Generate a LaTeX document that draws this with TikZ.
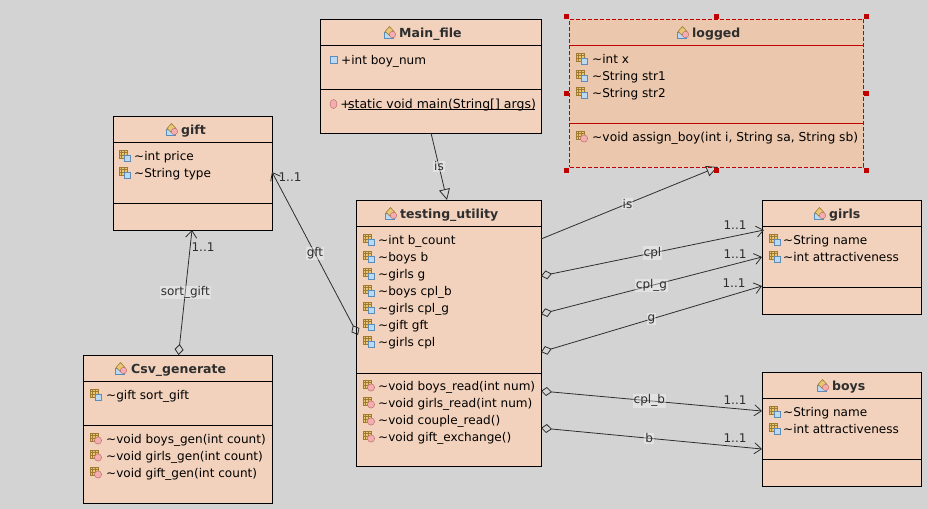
\documentclass[tikz,border=0pt]{standalone}
\usepackage{fontspec}
\setmainfont{DejaVu Sans}
\usetikzlibrary{arrows.meta,calc}
\definecolor{bgc}{HTML}{D3D3D3}
\definecolor{boxc}{HTML}{F2D2BC}
\definecolor{selc}{HTML}{EAC7AD}
\definecolor{selred}{HTML}{C00000}
\definecolor{inkc}{HTML}{2E2E2E}
\definecolor{gridfill}{HTML}{E8C878}
\definecolor{gridline}{HTML}{A07A30}
\definecolor{icblue}{HTML}{BBD9F2}
\definecolor{icblued}{HTML}{5B8DB8}
\definecolor{icpink}{HTML}{F4AEB0}
\definecolor{icpinkd}{HTML}{C07070}
\newcounter{autonode}
\tikzset{
  classbox/.style={draw=black,fill=boxc,line width=1pt,anchor=north west,inner sep=0pt,outer sep=0pt},
  selbox/.style={classbox,fill=selc,draw=selred,dash pattern=on 4pt off 2pt},
  member/.style={anchor=base west,inner sep=0pt,font=\fontsize{12.05}{14}\selectfont,text=black},
  ctitle/.style={anchor=base west,inner sep=0pt,font=\fontsize{12.5}{14}\selectfont\bfseries,text=inkc},
  conn/.style={draw=inkc,line width=.8pt},
  edgelabel/.style={fill=white,fill opacity=.35,text opacity=1,inner sep=1pt,font=\fontsize{12}{14}\selectfont,text=inkc},
  mult/.style={inner sep=0pt,font=\fontsize{12}{14}\selectfont,text=inkc},
  comp/.style={conn,{Diamond[open,length=11pt,width=9pt,line width=.8pt]}-{Straight Barb[length=7pt,width=11pt,line width=.8pt]}},
  inh/.style={conn,-{Triangle[open,length=11pt,width=11pt,line width=.8pt]}},
  handle/.style={fill=selred,draw=none,minimum size=5pt,inner sep=0pt},
  seprule/.style={line width=1pt}
}
% icons, centred on the given point
\newcommand{\gridmark}{%
  \fill[fill=gridfill,draw=gridline,line width=.7pt] (-5,-6) rectangle (3,2);
  \draw[gridline,line width=.6pt] (-2.3,-6) -- (-2.3,2) (0.3,-6) -- (0.3,2) (-5,-3.3) -- (3,-3.3) (-5,-0.7) -- (3,-0.7);}
\newcommand{\fieldicon}[2]{\begin{scope}[shift={(#1,#2)}]
  \gridmark
  \fill[fill=icblue,draw=icblued,line width=.7pt] (0,-1) rectangle (6.5,5);
\end{scope}}
\newcommand{\methodicon}[2]{\begin{scope}[shift={(#1,#2)}]
  \gridmark
  \fill[fill=icpink,draw=icpinkd,line width=.5pt] (3,1.5) circle (3.6);
\end{scope}}
\newcommand{\classicon}[2]{\begin{scope}[shift={(#1,#2)}]
  \fill[fill=icblue,draw=icblued,line width=.6pt] (-6,0) rectangle (3,6);
  \fill[fill=gridfill,draw=gridline,line width=.6pt] (-5,-0.5) -- (-0.5,-5.5) -- (4,-0.5) -- (-0.5,3.5) -- cycle;
  \fill[fill=icpink,draw=icpinkd,line width=.5pt] (2.5,2.5) circle (3.2);
\end{scope}}
\newcommand{\mrow}[3]{\stepcounter{autonode}\node[member] (m\theautonode) at (#1,#2+4.7) {#3};}
\begin{document}
\begin{tikzpicture}[x=1pt,y=-1pt]
\useasboundingbox[fill=bgc] (0,0) rectangle (927,509);

% ---- boxes
\node[classbox,minimum width=221pt,minimum height=114pt] (mainf) at (320,19) {};
\node[selbox,minimum width=294pt,minimum height=148pt] (logged) at (569.5,19) {};
\node[classbox,minimum width=159pt,minimum height=114pt] (gift) at (113,116) {};
\node[classbox,minimum width=185pt,minimum height=266pt] (testing) at (356,200) {};
\node[classbox,minimum width=159pt,minimum height=114pt] (girls) at (762,200) {};
\node[classbox,minimum width=159pt,minimum height=114pt] (boys) at (762,372) {};
\node[classbox,minimum width=189pt,minimum height=148pt] (csv) at (83,355) {};

% ---- separators
\draw[seprule] ($(mainf.north west)+(0,26)$) -- ($(mainf.north east)+(0,26)$);
\draw[seprule] ($(mainf.north west)+(0,70)$) -- ($(mainf.north east)+(0,70)$);
\draw[seprule,selred] ($(logged.north west)+(0,26.5)$) -- ($(logged.north east)+(0,26.5)$);
\draw[seprule,selred] ($(logged.north west)+(0,104)$) -- ($(logged.north east)+(0,104)$);
\draw[seprule] ($(gift.north west)+(0,26)$) -- ($(gift.north east)+(0,26)$);
\draw[seprule] ($(gift.north west)+(0,87)$) -- ($(gift.north east)+(0,87)$);
\draw[seprule] ($(testing.north west)+(0,26)$) -- ($(testing.north east)+(0,26)$);
\draw[seprule] ($(testing.north west)+(0,173)$) -- ($(testing.north east)+(0,173)$);
\draw[seprule] ($(girls.north west)+(0,26)$) -- ($(girls.north east)+(0,26)$);
\draw[seprule] ($(girls.north west)+(0,87)$) -- ($(girls.north east)+(0,87)$);
\draw[seprule] ($(boys.north west)+(0,26)$) -- ($(boys.north east)+(0,26)$);
\draw[seprule] ($(boys.north west)+(0,87)$) -- ($(boys.north east)+(0,87)$);
\draw[seprule] ($(csv.north west)+(0,26)$) -- ($(csv.north east)+(0,26)$);
\draw[seprule] ($(csv.north west)+(0,70)$) -- ($(csv.north east)+(0,70)$);

% ---- titles
\classicon{390}{32}\node[ctitle] (tmain) at (399,37) {Main\_file};
\classicon{683}{32}\node[ctitle] (tlogged) at (692,37) {logged};
\classicon{172}{129}\node[ctitle] (tgift) at (181,134) {gift};
\classicon{391}{213}\node[ctitle] (ttest) at (400,218) {testing\_utility};
\classicon{820}{213}\node[ctitle] (tgirls) at (829,218) {girls};
\classicon{823}{385}\node[ctitle] (tboys) at (832,390) {boys};
\classicon{121}{368}\node[ctitle] (tcsv) at (131,373) {Csv\_generate};

% ---- Main_file members
\fill[fill=icblue,draw=icblued,line width=.7pt] (330,56) rectangle (337,63);
\mrow{341}{60}{+int boy\_num}
\fill[fill=icpink,draw=icpinkd,line width=.5pt] (333.5,104) ellipse (3.5 and 4.5);
\mrow{341}{104}{\kern-.8pt+\kern-2.4pt\fontsize{12.5}{14}\selectfont\rlap{\rule[-1pt]{187pt}{.8pt}}static void main(String[] args)}

% ---- logged members
\fieldicon{581}{59}\mrow{592}{59}{\textasciitilde int x}
\fieldicon{581}{76}\mrow{592}{76}{\textasciitilde String str1}
\fieldicon{581}{93}\mrow{592}{93}{\textasciitilde String str2}
\methodicon{581}{137}\mrow{592}{137}{\fontsize{12.28}{14}\selectfont\textasciitilde void assign\_boy(int i, String sa, String sb)}

% ---- gift members
\fieldicon{124}{156}\mrow{134}{156}{\textasciitilde int price}
\fieldicon{124}{173}\mrow{134}{173}{\textasciitilde String type}

% ---- testing_utility members
\fieldicon{368}{240}\mrow{378}{240}{\textasciitilde int b\_count}
\fieldicon{368}{257}\mrow{378}{257}{\textasciitilde boys b}
\fieldicon{368}{274}\mrow{378}{274}{\textasciitilde girls g}
\fieldicon{368}{291}\mrow{378}{291}{\textasciitilde boys cpl\_b}
\fieldicon{368}{308}\mrow{378}{308}{\textasciitilde girls cpl\_g}
\fieldicon{368}{325}\mrow{378}{325}{\textasciitilde gift gft}
\fieldicon{368}{342}\mrow{378}{342}{\textasciitilde girls cpl}
\methodicon{368}{386}\mrow{378}{386}{\textasciitilde void boys\_read(int num)}
\methodicon{368}{403}\mrow{378}{403}{\textasciitilde void girls\_read(int num)}
\methodicon{368}{420}\mrow{378}{420}{\textasciitilde void couple\_read()}
\methodicon{368}{437}\mrow{378}{437}{\textasciitilde void gift\_exchange()}

% ---- girls / boys members
\fieldicon{774}{240}\mrow{783}{240}{\textasciitilde String name}
\fieldicon{774}{257}\mrow{783}{257}{\textasciitilde int attractiveness}
\fieldicon{774}{412}\mrow{783}{412}{\textasciitilde String name}
\fieldicon{774}{429}\mrow{783}{429}{\textasciitilde int attractiveness}

% ---- Csv_generate members
\fieldicon{95}{395}\mrow{106}{395}{\textasciitilde gift sort\_gift}
\methodicon{95}{439}\mrow{106}{439}{\textasciitilde void boys\_gen(int count)}
\methodicon{95}{456}\mrow{106}{456}{\textasciitilde void girls\_gen(int count)}
\methodicon{95}{473}\mrow{106}{473}{\textasciitilde void gift\_gen(int count)}

% ---- connector ends on the box edges
\coordinate (mainOut) at ($(mainf.south west)+(111,0)$);
\coordinate (testTop) at ($(testing.north west)+(91,0)$);
\coordinate (testIs) at ($(testing.north east)+(0,39)$);
\coordinate (logIn) at ($(logged.south west)+(148,0)$);
\coordinate (tCpl) at ($(testing.north east)+(0,76)$);
\coordinate (tCplG) at ($(testing.north east)+(0,114)$);
\coordinate (tG) at ($(testing.north east)+(0,152)$);
\coordinate (tCplB) at ($(testing.north east)+(0,191)$);
\coordinate (tB) at ($(testing.north east)+(0,228)$);
\coordinate (tGft) at ($(testing.north west)+(2,135)$);
\coordinate (gCpl) at ($(girls.north west)+(2,30)$);
\coordinate (gCplG) at ($(girls.north west)+(0,57)$);
\coordinate (gG) at ($(girls.north west)+(0,86)$);
\coordinate (bCplB) at ($(boys.north west)+(0,39)$);
\coordinate (bB) at ($(boys.north west)+(0,77)$);
\coordinate (giftGft) at ($(gift.north east)+(0,56)$);
\coordinate (giftSort) at ($(gift.south west)+(79,0)$);
\coordinate (csvSort) at ($(csv.north west)+(95.5,0)$);

% ---- connectors
\draw[inh] (mainOut) -- node[edgelabel] (lis1) {is} (testTop);
\draw[inh] (testIs) -- node[edgelabel,pos=.49] (lis2) {is} (logIn);
\draw[comp] (tCpl) -- node[edgelabel,pos=.5] (lcpl) {cpl} (gCpl);
\draw[comp] (tCplG) -- node[edgelabel,pos=.5] (lcplg) {cpl\_g} (gCplG);
\draw[comp] (tG) -- node[edgelabel,pos=.5] (lg) {g} (gG);
\draw[comp] (tCplB) -- node[edgelabel,pos=.49] (lcplb) {cpl\_b} (bCplB);
\draw[comp] (tB) -- node[edgelabel,pos=.49] (lb) {b} (bB);
\draw[comp] (tGft) -- node[edgelabel] (lgft) {gft} (giftGft);
\draw[comp] (csvSort) -- node[edgelabel] (lsort) {sort\_gift} (giftSort);

% ---- multiplicities
\node[mult] (m1) at (735,225) {1..1};
\node[mult] (m2) at (735,254) {1..1};
\node[mult] (m3) at (734,283) {1..1};
\node[mult] (m4) at (735,400) {1..1};
\node[mult] (m5) at (735,438) {1..1};
\node[mult] (m6) at (290,177) {1..1};
\node[mult] (m7) at (203,247) {1..1};

% ---- selection handles
\node[handle] (h1) at (566.3,16.3) {};
\node[handle] (h2) at (716.3,16.3) {};
\node[handle] (h3) at (866.5,16.3) {};
\node[handle] (h4) at (566.3,93.3) {};
\node[handle] (h5) at (866.5,93.3) {};
\node[handle] (h6) at (566.3,170.3) {};
\node[handle] (h7) at (716.3,170.3) {};
\node[handle] (h8) at (866.5,170.3) {};
\end{tikzpicture}
\end{document}
